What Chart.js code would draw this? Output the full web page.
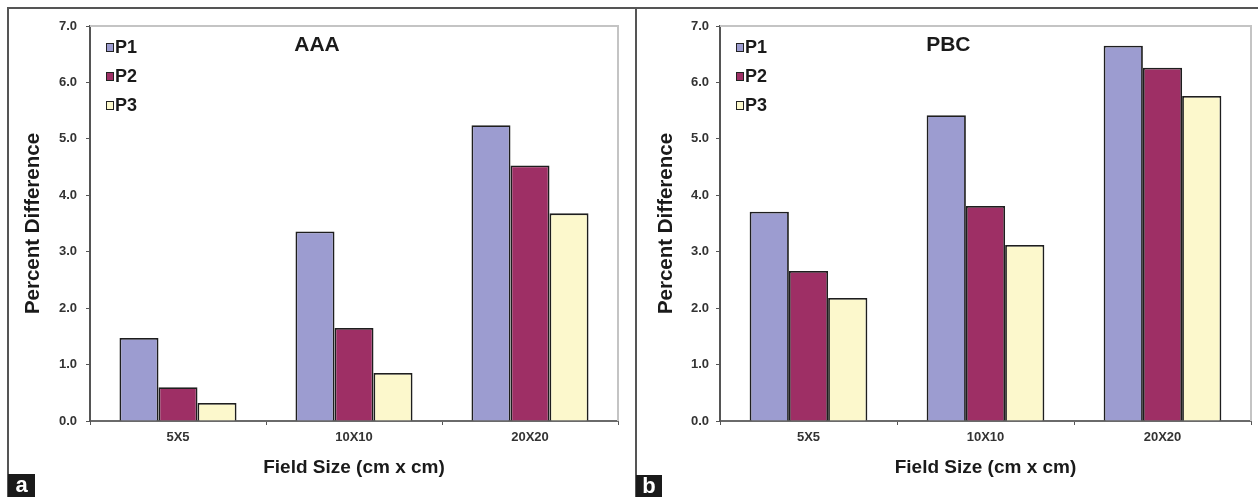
<!DOCTYPE html>
<html>
<head>
<meta charset="utf-8">
<script src="https://cdn.jsdelivr.net/npm/chart.js@4/dist/chart.umd.min.js"></script>
<style>
  html, body { margin:0; padding:0; background:#fff; }
  body { width:1258px; height:497px; position:relative; overflow:hidden; font-family:"Liberation Sans", Arial, sans-serif; }
  canvas { position:absolute; }
  .line { position:absolute; background:#555; }
  .tag { position:absolute; background:#1a1a1a; color:#fff; font-weight:bold; font-size:22px; line-height:22px; text-align:center; }
</style>
</head>
<body>
<canvas id="chartA" width="628" height="489" style="left:8px;top:8px;"></canvas>
<canvas id="chartB" width="622" height="489" style="left:636px;top:8px;"></canvas>
<div class="line" style="left:8px;top:7px;width:1250px;height:2px;"></div>
<div class="line" style="left:7px;top:7px;width:2px;height:490px;"></div>
<div class="line" style="left:635px;top:7px;width:2px;height:490px;"></div>
<div class="tag" style="left:8px;top:474px;width:27px;height:23px;">a</div>
<div class="tag" style="left:636px;top:475px;width:26px;height:22px;">b</div>
<script>
const categories = ['5X5', '10X10', '20X20'];
const seriesLabels = ['P1', 'P2', 'P3'];
const seriesColors = ['#9c9cd0', '#9e2f65', '#fcf8cc'];

const aaaP1 = [1.47, 3.36, 5.24];
const aaaP2 = [0.60, 1.65, 4.53];
const aaaP3 = [0.32, 0.85, 3.68];

const pbcP1 = [3.71, 5.42, 6.65];
const pbcP2 = [2.66, 3.81, 6.26];
const pbcP3 = [2.18, 3.12, 5.76];

const yMin = 0, yMax = 7, yStep = 1;
const yTitle = 'Percent Difference';
const xTitle = 'Field Size (cm x cm)';

const overlay = {
  id: 'overlay',
  beforeDatasetsDraw(chart, args, opts) {
    const {ctx, chartArea: a} = chart;
    ctx.save();
    ctx.strokeStyle = '#c4c4c4';
    ctx.lineWidth = 2;
    ctx.beginPath();
    ctx.moveTo(a.left, a.top);
    ctx.lineTo(a.right, a.top);
    ctx.lineTo(a.right, a.bottom);
    ctx.stroke();
    ctx.restore();
  },
  afterDraw(chart, args, opts) {
    const {ctx, chartArea: a} = chart;
    ctx.save();
    // title
    ctx.fillStyle = '#1a1a1a';
    ctx.font = 'bold 21px "Liberation Sans", Arial, sans-serif';
    ctx.textAlign = 'center';
    ctx.textBaseline = 'middle';
    ctx.fillText(opts.title, a.left + 0.43 * (a.right - a.left), a.top + 19);
    // legend
    const rows = [21.5, 50.5, 79.5];
    ctx.font = 'bold 18px "Liberation Sans", Arial, sans-serif';
    ctx.textAlign = 'left';
    chart.data.datasets.forEach((ds, i) => {
      const y = a.top + rows[i];
      ctx.fillStyle = ds.backgroundColor;
      ctx.fillRect(a.left + 16.5, y - 4, 7, 8);
      ctx.strokeStyle = '#222';
      ctx.lineWidth = 1;
      ctx.strokeRect(a.left + 16.5, y - 4, 7, 8);
      ctx.fillStyle = '#1a1a1a';
      ctx.fillText(ds.label, a.left + 25, y + 1);
    });
    ctx.restore();
  }
};

function makeChart(id, title, series, geom) {
  const datasets = series.map((vals, i) => ({
    label: seriesLabels[i],
    data: vals,
    backgroundColor: seriesColors[i],
    borderColor: '#1e1e1e',
    borderWidth: 1.8,
    borderSkipped: 'start',
    barPercentage: 1.0,
    categoryPercentage: 0.665
  }));
  const tickFont = { family: '"Liberation Sans", Arial, sans-serif', size: 13, weight: 'bold' };
  const xTitleFont = { family: '"Liberation Sans", Arial, sans-serif', size: 19, weight: 'bold' };
  const yTitleFont = { family: '"Liberation Sans", Arial, sans-serif', size: 20.5, weight: 'bold' };
  return new Chart(document.getElementById(id), {
    type: 'bar',
    data: { labels: categories, datasets },
    plugins: [overlay],
    options: {
      responsive: false,
      animation: false,
      devicePixelRatio: 1,
      layout: { padding: { left: 0, top: 18, right: geom.right, bottom: 0 } },
      plugins: {
        legend: { display: false },
        tooltip: { enabled: false },
        overlay: { title }
      },
      scales: {
        x: {
          grid: { display: true, drawOnChartArea: false, drawTicks: true, tickLength: 4, tickColor: '#555', offset: true },
          border: { display: true, color: '#6a6a6a', width: 2 },
          ticks: { font: tickFont, color: '#333', padding: 5, maxRotation: 0 },
          title: { display: true, text: xTitle, font: xTitleFont, color: '#1a1a1a', padding: { top: 0, bottom: 17.5 } },
          afterFit(scale) { scale.height = 76; }
        },
        y: {
          min: yMin, max: yMax,
          grid: { display: true, drawOnChartArea: false, drawTicks: true, tickLength: 4, tickColor: '#555' },
          border: { display: true, color: '#555', width: 2 },
          ticks: { stepSize: yStep, font: tickFont, color: '#333', padding: geom.tickPad,
                   callback: v => Number(v).toFixed(1) },
          title: { display: true, text: yTitle, font: yTitleFont, color: '#1a1a1a', padding: { top: geom.titlePad, bottom: 0 } },
          afterFit(scale) { scale.width = geom.yWidth; }
        }
      }
    }
  });
}

makeChart('chartA', 'AAA', [aaaP1, aaaP2, aaaP3], { right: 18, yWidth: 82, tickPad: 9, titlePad: 13.5 });
makeChart('chartB', 'PBC', [pbcP1, pbcP2, pbcP3], { right: 7, yWidth: 84, tickPad: 7, titlePad: 18 });
</script>
</body>
</html>
